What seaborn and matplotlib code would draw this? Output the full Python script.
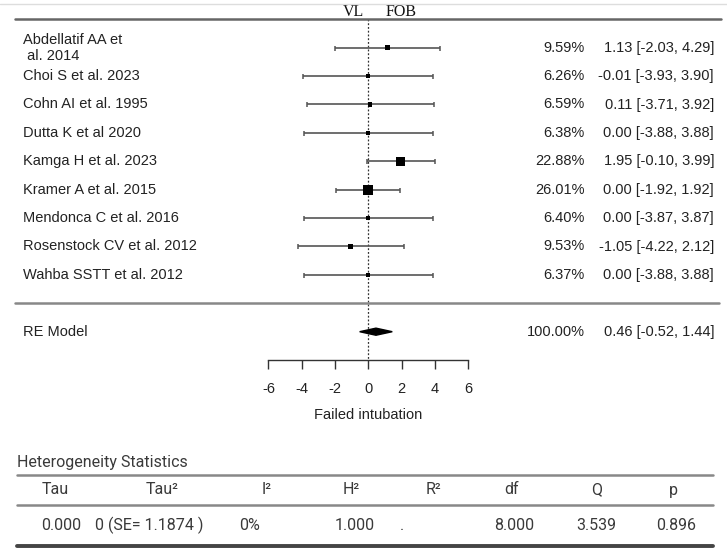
########################################################################
# Forest plot - VL vs FOB, failed intubation (RE model)
########################################################################
import numpy as np
import matplotlib
matplotlib.use("Agg")
import matplotlib.pyplot as plt
import matplotlib.transforms as mtransforms
import seaborn as sns

########################################################################
### data
########################################################################
studies = ["Abdellatif AA et\n al. 2014", "Choi S et al. 2023", "Cohn AI et al. 1995",
           "Dutta K et al 2020", "Kamga H et al. 2023", "Kramer A et al. 2015",
           "Mendonca C et al. 2016", "Rosenstock CV et al. 2012", "Wahba SSTT et al. 2012"]
estimate = [1.13, -0.01, 0.11, 0.00, 1.95, 0.00, 0.00, -1.05, 0.00]
ci_low = [-2.03, -3.93, -3.71, -3.88, -0.10, -1.92, -3.87, -4.22, -3.88]
ci_high = [4.29, 3.90, 3.92, 3.88, 3.99, 1.92, 3.87, 2.12, 3.88]
weights = [9.59, 6.26, 6.59, 6.38, 22.88, 26.01, 6.40, 9.53, 6.37]

re_label = "RE Model"
re_est = 0.46
re_low = -0.52
re_high = 1.44
re_weight = 100.00

xticks = [-6, -4, -2, 0, 2, 4, 6]
xlabel = "Failed intubation"
left_group = "VL"
right_group = "FOB"

het_title = "Heterogeneity Statistics"
het_headers = ["Tau", "Tau²", "I²", "H²", "R²", "df", "Q", "p"]
het_values = ["0.000", "0 (SE= 1.1874 )", "0%", "1.000", ".", "8.000", "3.539", "0.896"]

########################################################################
### style
########################################################################
sns.set_theme(style="white")
plt.rcParams['font.family'] = ['Liberation Sans', 'DejaVu Sans']

W, H = 727, 555
fig = plt.figure(figsize=(W / 100, H / 100), dpi=100)
fig.patch.set_facecolor("white")

# main forest axes: rows 0..8 studies, 9 separator, 10 RE model, 11 x axis
row0_px, row_px = 47.7, 28.4
zero_px, unit_px = 368.3, 16.65
bottom_px = row0_px + row_px * 11
ax = fig.add_axes([0, 1 - bottom_px / H, 1, bottom_px / H])
ax.set_xlim(-zero_px / unit_px, (W - zero_px) / unit_px)
ax.set_ylim(11, -row0_px / row_px)
ax.set_facecolor("none")

rows = np.arange(len(studies))
est = np.array(estimate)
lo = np.array(ci_low)
hi = np.array(ci_high)
w = np.array(weights)

fs = 10.5
txt = "#222222"

# confidence intervals
ax.errorbar(est, rows, xerr=[est - lo, hi - est], fmt="none", ecolor="#555555",
            elinewidth=1.2, capsize=1.8, capthick=1.1, zorder=2)

# squares sized by weight
side_px = 2.3 + 0.304 * w
sns.scatterplot(x=est, y=rows, marker="s", color="black", s=(side_px * 0.72) ** 2,
                linewidth=0, ax=ax, zorder=3, legend=False)

# summary diamond
h = 0.125
ax.fill([re_low, re_est, re_high, re_est], [10, 10 - h, 10, 10 + h],
        color="black", zorder=3)

# reference lines
ax.vlines(0, -1, 11, colors="#333333", linestyles=(0, (1.5, 1.5)), linewidth=0.9, zorder=1)
ax.axhline(-1, xmin=15 / W, xmax=721 / W, color="#666666", linewidth=1.8)
ax.axhline(9, xmin=15 / W, xmax=719 / W, color="#888888", linewidth=1.8)

# text columns
trans = mtransforms.blended_transform_factory(fig.transFigure, ax.transData)
for r, name, wt, e, l, u in zip(rows, studies, weights, estimate, ci_low, ci_high):
    ax.text(23 / W, r, name, transform=trans, ha="left", va="center",
            fontsize=fs, color=txt, linespacing=1.2)
    ax.text(585 / W, r, f"{wt:.2f}%", transform=trans, ha="right", va="center",
            fontsize=fs, color=txt)
    ax.text(714 / W, r, f"{e:.2f} [{l:.2f}, {u:.2f}]", transform=trans, ha="right",
            va="center", fontsize=fs, color=txt)

ax.text(23 / W, 10, re_label, transform=trans, ha="left", va="center", fontsize=fs, color=txt)
ax.text(585 / W, 10, f"{re_weight:.2f}%", transform=trans, ha="right", va="center",
        fontsize=fs, color=txt)
ax.text(714 / W, 10, f"{re_est:.2f} [{re_low:.2f}, {re_high:.2f}]", transform=trans,
        ha="right", va="center", fontsize=fs, color=txt)

# group labels above the zero line
ax.text(-0.26, -1.24, left_group, ha="right", va="center", fontsize=11.5,
        family=["Liberation Serif", "DejaVu Serif"], color="#111111")
ax.text(1.06, -1.24, right_group, ha="left", va="center", fontsize=11.5,
        family=["Liberation Serif", "DejaVu Serif"], color="#111111")

# x axis
for s in ["top", "left", "right"]:
    ax.spines[s].set_visible(False)
ax.spines["bottom"].set_bounds(xticks[0], xticks[-1])
ax.spines["bottom"].set_color("#333333")
ax.spines["bottom"].set_linewidth(1.0)
ax.set_yticks([])
ax.set_xticks(xticks)
ax.set_xticklabels([str(t) for t in xticks])
ax.tick_params(axis="x", direction="out", length=6.5, width=1.0, color="#333333",
               labelsize=fs, labelcolor=txt, pad=9.5, bottom=True)
ax.set_xlabel(xlabel, fontsize=fs, color=txt)
ax.xaxis.set_label_coords(zero_px / W, -(415 - bottom_px) / bottom_px)
ax.xaxis.label.set_va("center")

########################################################################
### heterogeneity table (pixel layout)
########################################################################
tab = fig.add_axes([0, 0, 1, 1])
tab.set_xlim(0, W)
tab.set_ylim(H, 0)
tab.axis("off")
tab.set_facecolor("none")

tf = ['Roboto', 'DejaVu Sans']
tcol = "#3a3a3a"
tfs = 11.5
tab.plot([0, W], [3.5, 3.5], color="#dddddd", linewidth=1.0)
tab.text(17, 462, het_title, ha="left", va="center", fontsize=tfs, family=tf, color=tcol)
tab.plot([17, 713], [475, 475], color="#888888", linewidth=1.8)
tab.plot([17, 713], [505, 505], color="#888888", linewidth=1.8)
tab.plot([17, 713], [546, 546], color="#444444", linewidth=2.8)

head_x = [55, 162, 267, 351, 433, 512, 597, 673]
val_x = [61, 149, 250, 355, 402, 514, 596, 676]
for x, t in zip(head_x, het_headers):
    tab.text(x, 490, t, ha="center", va="center", fontsize=tfs, family=tf, color=tcol)
for x, t in zip(val_x, het_values):
    tab.text(x, 525, t, ha="center", va="center", fontsize=tfs, family=tf, color=tcol)

plt.savefig("out.png", dpi=100, facecolor="white")
